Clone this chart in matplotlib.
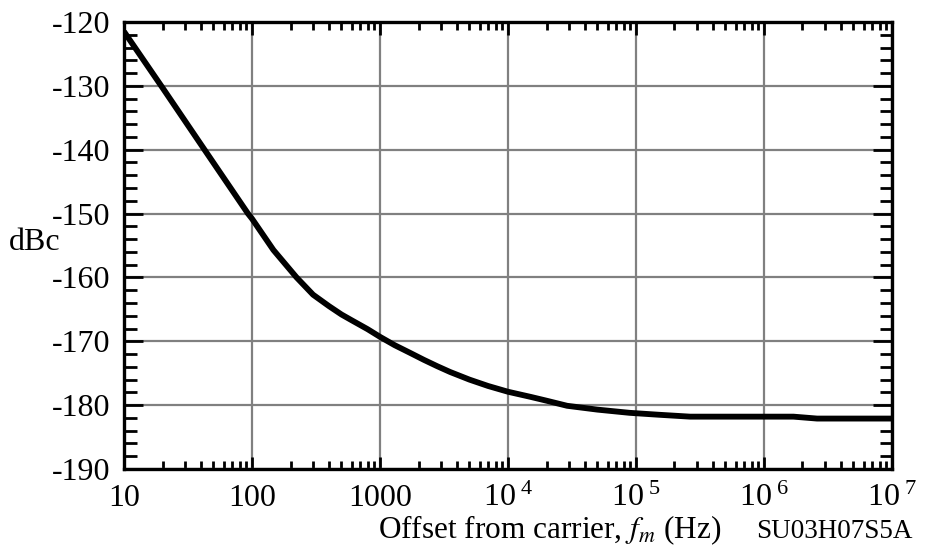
import matplotlib
matplotlib.use("Agg")
import matplotlib.pyplot as plt
from matplotlib.ticker import FixedLocator, FuncFormatter, LogLocator, MultipleLocator, NullFormatter

plt.rcParams['font.family'] = ['Liberation Serif', 'DejaVu Serif']
plt.rcParams['mathtext.fontset'] = 'stix'

# Data
freq_hz = [10, 20, 40, 93, 100, 147, 223, 300, 400, 500, 600, 800, 1000, 1300, 1714,
           2200, 2800, 3525, 5000, 7000, 10000, 15000, 20000, 29000, 50000, 89000, 150000,
           265000, 700000, 1700000, 2600000, 5000000, 10000000]
noise_dbc = [-121.5, -130.3, -139.2, -150.0, -150.8, -155.7, -160.0, -162.7, -164.5, -165.8,
             -166.7, -168.1, -169.3, -170.6, -171.8, -172.9, -173.9, -174.8,
             -176.0, -177.0, -177.9, -178.7, -179.3, -180.1, -180.7, -181.2, -181.5, -181.8,
             -181.8, -181.8, -182.1, -182.1, -182.1]

x_ticks = [10, 100, 1000, 1e4, 1e5, 1e6, 1e7]
x_tick_labels = ['10', '100', '1000', r'$\mathregular{10^{\ 4}}$', r'$\mathregular{10^{\ 5}}$',
                 r'$\mathregular{10^{\ 6}}$', r'$\mathregular{10^{\ 7}}$']
y_ticks = [-190, -180, -170, -160, -150, -140, -130, -120]

fig = plt.figure(figsize=(9.33, 5.46), dpi=100)
ax = fig.add_axes([0.1329, 0.141, 0.956 - 0.1329, 0.9597 - 0.141])

ax.plot(freq_hz, noise_dbc, color='black', lw=4.2, solid_capstyle='butt',
        solid_joinstyle='round', zorder=3)

ax.set_xscale('log')
ax.set_xlim(10, 1e7)
ax.set_ylim(-190, -120)

ax.xaxis.set_major_locator(FixedLocator(x_ticks))
ax.xaxis.set_major_formatter(FuncFormatter(lambda v, p: x_tick_labels[x_ticks.index(v)] if v in x_ticks else ''))
ax.xaxis.set_minor_locator(LogLocator(base=10, subs=range(2, 10)))
ax.xaxis.set_minor_formatter(NullFormatter())
ax.yaxis.set_major_locator(FixedLocator(y_ticks))
ax.set_yticklabels([str(v) for v in y_ticks])
ax.yaxis.set_minor_locator(MultipleLocator(2))

ax.grid(True, which='major', color='#808080', lw=1.6, zorder=1)
ax.tick_params(axis='both', which='both', direction='in', top=True, right=True, colors='black',
               labelsize=23)
ax.tick_params(axis='y', which='major', length=14, width=2.0, pad=10)
ax.tick_params(axis='y', which='minor', length=9, width=2.0)
ax.tick_params(axis='x', which='major', length=9, width=2.0, pad=11)
ax.tick_params(axis='x', which='minor', length=6, width=2.0)
for s in ax.spines.values():
    s.set_linewidth(2.4)
    s.set_zorder(4)

fig.text(0.009, 0.555, 'dBc', fontsize=23, ha='left', va='center')
fig.text(0.589, 0.0145, r'Offset from carrier, $f_m$ (Hz)', fontsize=22.5, ha='center', va='baseline')
fig.text(0.978, 0.0145, 'SU03H07S5A', fontsize=19.5, ha='right', va='baseline')

fig.savefig('out.png', dpi=100)
